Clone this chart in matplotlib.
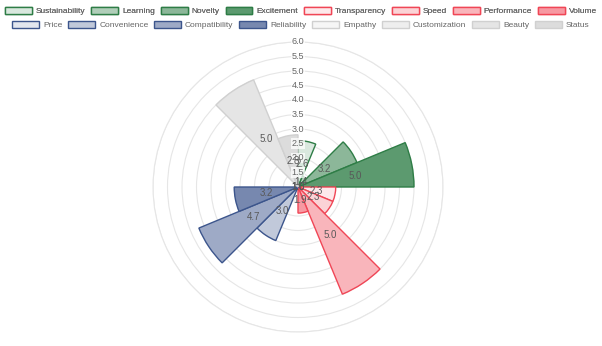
#!/usr/bin/env python3
"""Polar area chart of attribute scores (16 segments)."""

import numpy as np
import matplotlib.pyplot as plt
from matplotlib.patches import Patch
from matplotlib.colors import to_rgb

plt.rcParams["font.family"] = ["Liberation Sans", "DejaVu Sans"]

categories = ["Sustainability", "Learning", "Novelty", "Excitement",
              "Transparency", "Speed", "Performance", "Volume",
              "Price", "Convenience", "Compatibility", "Reliability",
              "Empathy", "Customization", "Beauty", "Status"]
values = [2.6, 1.4, 3.2, 5.0,
          2.3, 2.3, 5.0, 1.9,
          1.0, 3.0, 4.7, 3.2,
          1.0, 1.0, 5.0, 2.8]
tick_values = [1.5, 2.0, 2.5, 3.0, 3.5, 4.0, 4.5, 5.0, 5.5, 6.0]

# colour per group: base colour + alpha steps
group_bases = ["#2e7d46", "#f04656", "#3c558c", "#a8a8a8"]
group_alphas = [[0.18, 0.38, 0.55, 0.78],
                [0.12, 0.24, 0.4, 0.55],
                [0.15, 0.32, 0.5, 0.7],
                [0.1, 0.2, 0.3, 0.4]]
group_edges = ["#2e7d46", "#f04656", "#3c558c", "#d0d0d0"]


def blend(c, a):
    r, g, b = to_rgb(c)
    return (1 - a + a * r, 1 - a + a * g, 1 - a + a * b)


fills, edges = [], []
for base, alphas, edge in zip(group_bases, group_alphas, group_edges):
    for a in alphas:
        fills.append(blend(base, a))
        edges.append(edge)

fig = plt.figure(figsize=(6.02, 3.46), dpi=100)
ax = fig.add_axes([153 / 602, 14 / 346, 290 / 602, 290 / 346], projection="polar")
ax.set_theta_zero_location("N")
ax.set_theta_direction(-1)

n = len(values)
width = 2 * np.pi / n
theta = np.arange(n) * width
ax.bar(theta, np.array(values) - 1, width=width, bottom=1, align="edge",
       color=fills, edgecolor=edges, linewidth=1.0, zorder=3)

ax.set_ylim(1, 6)
ax.set_yticks(tick_values)
ax.set_yticklabels([])
ax.set_xticks([])
ax.grid(True, axis="y", color="#e6e6e6", linewidth=0.8)
ax.grid(False, axis="x")
ax.spines["polar"].set_color("#e6e6e6")
ax.spines["polar"].set_linewidth(0.8)

for t in tick_values:
    ax.text(0, t, f"{t:.1f}", ha="center", va="center", fontsize=6.5,
            color="#666666", zorder=4,
            bbox=dict(boxstyle="square,pad=0.1", fc="white", ec="none", alpha=0.75))

for th, v in zip(theta, values):
    ax.text(th + width / 2, (1 + v) / 2, f"{v:.1f}", ha="center", va="center",
            fontsize=7, color="#595959", zorder=5)

handles = [Patch(facecolor=f, edgecolor=e, linewidth=1.0) for f, e in zip(fills, edges)]
leg_kw = dict(ncol=8, frameon=False, fontsize=6, handlelength=3.2,
              handleheight=0.85, handletextpad=0.5, columnspacing=0.7,
              labelcolor="#666666", borderaxespad=0, borderpad=0)
leg1 = fig.legend(handles[:8], categories[:8], loc="center",
                  bbox_to_anchor=(0.5, 1 - 11 / 346), **leg_kw)
fig.add_artist(leg1)
fig.legend(handles[8:], categories[8:], loc="center",
           bbox_to_anchor=(0.5, 1 - 25 / 346), **leg_kw)

fig.savefig("out.png", dpi=100, facecolor="white")
